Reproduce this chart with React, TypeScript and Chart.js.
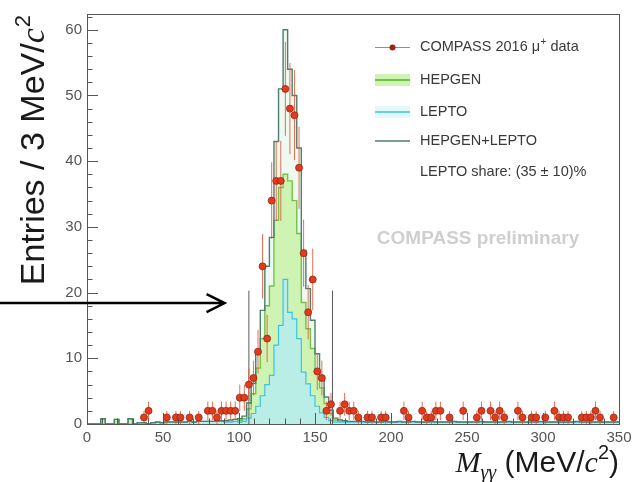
import React, { useEffect, useRef } from 'react';
import { Chart, registerables } from 'chart.js';

Chart.register(...registerables);

// ---------- data (bins of 3 MeV/c^2, bin i covers [3i, 3i+3]) ----------
const BIN_WIDTH = 3;
const X_MIN = 0;
const X_MAX = 350;
const Y_MIN = 0;
const Y_MAX = 62.4;
const X_STEP = 50;
const yTickValues: number[] = [0, 10, 20, 30, 40, 50, 60];

// COMPASS 2016 data (entries per bin, null = empty bin)
const dataCounts: (number | null)[] = [
  null, null, null, null, null, null, null, null, null, null,
  null, null, 1, 2, null, null, null, 1, null, 1,
  1, null, 1, null, 1, null, 2, 2, 1, 2,
  2, 2, 2, 4, 4, 6, 7, 11, 24, 13,
  34, 37, 37, 51, 48, 47, 39, 26, 17, 22,
  8, 7, 2, 3, null, 2, 3, 2, 2, 1,
  null, 1, 1, null, 1, 1, null, null, null, 2,
  1, null, null, 2, 1, 1, 2, 2, null, 1,
  null, null, 2, null, null, 1, 2, null, 2, 1,
  2, 1, null, null, 2, 1, null, 1, 1, null,
  1, null, 2, 1, 1, 1, null, null, 1, 1,
  1, 2, 1, null, null, 1, null,
];

// HEPGEN+LEPTO (sum of the simulations)
const totalMC: number[] = [
  0, 0, 0, 0.8, 0, 0, 0.7, 0, 0, 0.8,
  0, 0.2, 0.2, 0, 0.2, 0.3, 0.2, 0.3, 0.3, 0.3,
  0.3, 0.3, 0.4, 0.3, 0.4, 0.4, 0.4, 0.4, 0.5, 0.5,
  0.5, 0.6, 0.7, 0.8, 1.2, 3.2, 6.2, 11.2, 17.3, 24,
  28.4, 43, 51, 60, 54, 50, 42, 26.4, 20.6, 15.8,
  10.7, 7.2, 4.1, 2.1, 0.9, 0.6, 0.5, 0.4, 0.4, 0.4,
  0.4, 0.3, 0.4, 0.3, 0.3, 0.4, 0.3, 0.3, 0.4, 0.3,
  0.3, 0.4, 0.3, 0.3, 0.3, 0.4, 0.3, 0.3, 0.3, 0.3,
  0.4, 0.3, 0.3, 0.3, 0.3, 0.3, 0.4, 0.3, 0.3, 0.3,
  0.3, 0.3, 0.4, 0.3, 0.3, 0.3, 0.3, 0.3, 0.3, 0.4,
  0.3, 0.3, 0.3, 0.3, 0.3, 0.3, 0.3, 0.4, 0.3, 0.3,
  0.3, 0.3, 0.3, 0.3, 0.3, 0.3, 0.3,
];

// HEPGEN
const hepgenMC: number[] = [
  0, 0, 0, 0.8, 0, 0, 0.7, 0, 0, 0.8,
  0, 0, 0, 0, 0, 0, 0, 0, 0, 0,
  0, 0, 0, 0, 0, 0, 0, 0, 0.1, 0.1,
  0.2, 0.3, 0.3, 0.5, 0.8, 2.3, 4.6, 8.5, 13, 18,
  21, 31, 36, 38, 37, 34, 29, 18.5, 14.5, 11.5,
  8, 5.5, 3.1, 1.6, 0.6, 0.3, 0.2, 0.1, 0.1, 0.1,
  0.1, 0, 0.1, 0, 0, 0.1, 0, 0, 0.1, 0,
  0, 0.1, 0, 0, 0, 0.1, 0, 0, 0, 0,
  0.1, 0, 0, 0, 0, 0, 0.1, 0, 0, 0,
  0, 0, 0.1, 0, 0, 0, 0, 0, 0, 0.1,
  0, 0, 0, 0, 0, 0, 0, 0.1, 0, 0,
  0, 0, 0, 0, 0, 0, 0,
];

// LEPTO
const leptoMC: number[] = [
  0, 0, 0, 0, 0, 0, 0, 0, 0, 0,
  0, 0.2, 0.2, 0, 0.2, 0.3, 0.2, 0.3, 0.3, 0.3,
  0.3, 0.3, 0.4, 0.3, 0.4, 0.4, 0.4, 0.4, 0.4, 0.4,
  0.3, 0.3, 0.4, 0.3, 0.4, 0.9, 1.6, 2.7, 4.3, 6,
  7.4, 12, 15, 22, 17, 16, 13, 7.9, 6.1, 4.3,
  2.7, 1.7, 1.0, 0.5, 0.3, 0.3, 0.3, 0.3, 0.3, 0.3,
  0.3, 0.3, 0.3, 0.3, 0.3, 0.3, 0.3, 0.3, 0.3, 0.3,
  0.3, 0.3, 0.3, 0.3, 0.3, 0.3, 0.3, 0.3, 0.3, 0.3,
  0.3, 0.3, 0.3, 0.3, 0.3, 0.3, 0.3, 0.3, 0.3, 0.3,
  0.3, 0.3, 0.3, 0.3, 0.3, 0.3, 0.3, 0.3, 0.3, 0.3,
  0.3, 0.3, 0.3, 0.3, 0.3, 0.3, 0.3, 0.3, 0.3, 0.3,
  0.3, 0.3, 0.3, 0.3, 0.3, 0.3, 0.3,
];

// signal-window marker lines (MeV/c^2) and their height (entries)
const windowMarkers: number[] = [106.5, 161.5];
const windowMarkerHeight = 20.3;

// annotation arrow tip (data coordinates)
const arrowTip = { x: 90.5, y: 18.4 };

const legendLabels: string[] = [
  'COMPASS 2016 \u03bc',
  'HEPGEN',
  'LEPTO',
  'HEPGEN+LEPTO',
  'LEPTO share: (35 \u00b1 10)%',
];
const watermarkText = 'COMPASS preliminary';
const yTitleMain = 'Entries / 3 MeV/';
const xTitleVar = 'M';
const xTitleSub = '\u03b3\u03b3';
const xTitleUnit = ' (MeV/';

// ---------- styling ----------
const SANS = '"Liberation Sans", Arial, Helvetica, sans-serif';
const SERIF = '"Liberation Serif", "Times New Roman", serif';
const C_DATA = '#dc3d1c';
const C_DATA_EDGE = '#a3220f';
const C_ERR = 'rgba(228,86,52,0.85)';
const C_HEPGEN_FILL = '#cff3b2';
const C_HEPGEN_LINE = '#72c249';
const C_LEPTO_FILL = '#b9eee6';
const C_LEPTO_LINE = '#3fc3e2';
const C_TOTAL_FILL = '#eefaf1';
const C_TOTAL_LINE = '#4e7e6f';
const C_AXIS = '#555555';

function stepPoints(values: number[]) {
  const pts: { x: number; y: number }[] = [{ x: 0, y: 0 }];
  values.forEach((v, i) => {
    pts.push({ x: i * BIN_WIDTH, y: v }, { x: (i + 1) * BIN_WIDTH, y: v });
  });
  pts.push({ x: values.length * BIN_WIDTH, y: 0 });
  return pts;
}

const dataPoints = dataCounts.flatMap((n, i) =>
  n == null ? [] : [{ x: i * BIN_WIDTH + BIN_WIDTH / 2, y: n }]
);

const errorSegments = dataPoints.flatMap((p) => {
  const e = Math.sqrt(p.y);
  return [
    { x: p.x, y: p.y - e },
    { x: p.x, y: p.y + e },
    { x: p.x, y: null },
    { x: p.x - BIN_WIDTH / 2, y: p.y },
    { x: p.x + BIN_WIDTH / 2, y: p.y },
    { x: p.x + BIN_WIDTH / 2, y: null },
  ];
});

const markerSegments = windowMarkers.flatMap((m) => [
  { x: m, y: 0 },
  { x: m, y: windowMarkerHeight },
  { x: m, y: null },
]);

const rootPlugin = {
  id: 'rootStyle',
  beforeDatasetsDraw(chart: any) {
    const { ctx, chartArea } = chart;
    ctx.save();
    ctx.fillStyle = '#cfcfcf';
    ctx.font = `bold 19px ${SANS}`;
    ctx.textAlign = 'center';
    ctx.textBaseline = 'alphabetic';
    ctx.fillText(watermarkText, chartArea.left + (chartArea.right - chartArea.left) * 0.735, chartArea.top + 230);
    ctx.restore();
  },
  afterDatasetsDraw(chart: any) {
    const { ctx, chartArea } = chart;
    const xs = chart.scales.x;
    const ys = chart.scales.y;
    const { left, right, top, bottom } = chartArea;
    ctx.save();
    ctx.strokeStyle = C_AXIS;
    ctx.lineWidth = 1;
    ctx.strokeRect(Math.round(left) + 0.5, Math.round(top) + 0.5, Math.round(right - left), Math.round(bottom - top));
    ctx.beginPath();
    for (let v = X_MIN; v <= X_MAX; v += 10) {
      const px = Math.round(xs.getPixelForValue(v)) + 0.5;
      const len = v % X_STEP === 0 ? 11 : 5.5;
      ctx.moveTo(px, bottom);
      ctx.lineTo(px, bottom - len);
    }
    for (let v = Y_MIN; v <= Y_MAX; v += 2) {
      const py = Math.round(ys.getPixelForValue(v)) + 0.5;
      const len = v % 10 === 0 ? 11 : 5.5;
      ctx.moveTo(left, py);
      ctx.lineTo(left + len, py);
    }
    ctx.stroke();
    ctx.restore();
  },
  afterDraw(chart: any) {
    const { ctx, chartArea } = chart;
    const xs = chart.scales.x;
    const ys = chart.scales.y;
    ctx.save();

    // ---- y title (rotated, right-aligned to top) ----
    {
      const fs = 34;
      const mainFont = `${fs}px ${SANS}`;
      const cFont = `italic ${fs}px ${SERIF}`;
      const supFont = `${Math.round(fs * 0.66)}px ${SANS}`;
      ctx.font = mainFont;
      const w1 = ctx.measureText(yTitleMain).width;
      ctx.font = cFont;
      const w2 = ctx.measureText('c').width;
      ctx.font = supFont;
      const w3 = ctx.measureText('2').width;
      const total = w1 + w2 + w3 + 1;
      ctx.translate(44, chartArea.top + 1 + total);
      ctx.rotate(-Math.PI / 2);
      ctx.fillStyle = '#1a1a1a';
      ctx.textBaseline = 'alphabetic';
      ctx.textAlign = 'left';
      ctx.font = mainFont;
      ctx.fillText(yTitleMain, 0, 0);
      ctx.font = cFont;
      ctx.fillText('c', w1, 0);
      ctx.font = supFont;
      ctx.fillText('2', w1 + w2 + 1, -fs * 0.42);
      ctx.setTransform(1, 0, 0, 1, 0, 0);
    }

    // ---- x title (right-aligned to frame) ----
    {
      const fs = 30;
      const mFont = `italic ${fs}px ${SERIF}`;
      const subFont = `italic ${Math.round(fs * 0.68)}px ${SERIF}`;
      const unitFont = `${fs}px ${SANS}`;
      const supFont = `${Math.round(fs * 0.66)}px ${SANS}`;
      const parts = [
        { t: xTitleVar, f: mFont, dy: 0 },
        { t: xTitleSub, f: subFont, dy: 7 },
        { t: xTitleUnit, f: unitFont, dy: 0 },
        { t: 'c', f: mFont, dy: 0 },
        { t: '2', f: supFont, dy: -13 },
        { t: ')', f: unitFont, dy: 0 },
      ];
      let total = 0;
      const widths = parts.map((p) => {
        ctx.font = p.f;
        const w = ctx.measureText(p.t).width;
        total += w;
        return w;
      });
      let x = chartArea.right - total;
      const base = 472;
      ctx.fillStyle = '#1a1a1a';
      ctx.textAlign = 'left';
      ctx.textBaseline = 'alphabetic';
      parts.forEach((p, i) => {
        ctx.font = p.f;
        ctx.fillText(p.t, x, base + p.dy);
        x += widths[i];
      });
    }

    // ---- legend ----
    {
      const rows = [47, 80, 112, 141, 172];
      const sx0 = 375;
      const sx1 = 410;
      const tx = 420;
      ctx.textAlign = 'left';
      ctx.textBaseline = 'middle';
      ctx.font = `14.5px ${SANS}`;
      ctx.strokeStyle = C_ERR;
      ctx.lineWidth = 1;
      ctx.beginPath();
      ctx.moveTo(sx0, rows[0] + 0.5);
      ctx.lineTo(sx1, rows[0] + 0.5);
      ctx.stroke();
      ctx.fillStyle = C_DATA_EDGE;
      ctx.beginPath();
      ctx.arc((sx0 + sx1) / 2, rows[0] + 0.5, 3, 0, Math.PI * 2);
      ctx.fill();
      ctx.fillStyle = '#3a3a3a';
      ctx.fillText(legendLabels[0], tx, rows[0]);
      const w0 = ctx.measureText(legendLabels[0]).width;
      ctx.font = `10px ${SANS}`;
      ctx.fillText('+', tx + w0 + 0.5, rows[0] - 5);
      const wp = ctx.measureText('+').width;
      ctx.font = `14.5px ${SANS}`;
      ctx.fillText(' data', tx + w0 + wp + 0.5, rows[0]);
      ctx.fillStyle = C_HEPGEN_FILL;
      ctx.fillRect(sx0, rows[1] - 6, sx1 - sx0, 12);
      ctx.strokeStyle = C_HEPGEN_LINE;
      ctx.lineWidth = 2;
      ctx.beginPath();
      ctx.moveTo(sx0, rows[1]);
      ctx.lineTo(sx1, rows[1]);
      ctx.stroke();
      ctx.fillStyle = '#3a3a3a';
      ctx.fillText(legendLabels[1], tx, rows[1]);
      ctx.fillStyle = '#e3f8fb';
      ctx.fillRect(sx0, rows[2] - 6, sx1 - sx0, 12);
      ctx.strokeStyle = C_LEPTO_LINE;
      ctx.lineWidth = 1.5;
      ctx.beginPath();
      ctx.moveTo(sx0, rows[2]);
      ctx.lineTo(sx1, rows[2]);
      ctx.stroke();
      ctx.fillStyle = '#3a3a3a';
      ctx.fillText(legendLabels[2], tx, rows[2]);
      ctx.strokeStyle = C_TOTAL_LINE;
      ctx.lineWidth = 1.5;
      ctx.beginPath();
      ctx.moveTo(sx0, rows[3]);
      ctx.lineTo(sx1, rows[3]);
      ctx.stroke();
      ctx.fillText(legendLabels[3], tx, rows[3]);
      ctx.fillText(legendLabels[4], tx, rows[4]);
    }

    // ---- annotation arrow ----
    {
      const tx = xs.getPixelForValue(arrowTip.x);
      const ty = ys.getPixelForValue(arrowTip.y);
      ctx.strokeStyle = '#000';
      ctx.lineWidth = 2.5;
      ctx.lineCap = 'butt';
      ctx.beginPath();
      ctx.moveTo(0, ty);
      ctx.lineTo(tx, ty);
      ctx.moveTo(tx - 18, ty - 9);
      ctx.lineTo(tx, ty);
      ctx.lineTo(tx - 18, ty + 9);
      ctx.stroke();
    }
    ctx.restore();
  },
};

export default function App() {
  const ref = useRef<HTMLCanvasElement>(null);
  useEffect(() => {
    const canvas = ref.current;
    if (!canvas) return;
    const chart = new Chart(canvas, {
      type: 'line',
      data: {
        datasets: [
          {
            type: 'line',
            label: 'COMPASS 2016 data',
            data: dataPoints,
            showLine: false,
            pointRadius: 3.5,
            pointBackgroundColor: C_DATA,
            pointBorderColor: C_DATA_EDGE,
            pointBorderWidth: 0.8,
            order: 0,
          },
          {
            type: 'line',
            label: 'errors',
            data: errorSegments as any,
            borderColor: C_ERR,
            borderWidth: 1,
            pointRadius: 0,
            spanGaps: false,
            tension: 0,
            order: 1,
          },
          {
            type: 'line',
            label: 'HEPGEN+LEPTO',
            data: stepPoints(totalMC),
            borderColor: C_TOTAL_LINE,
            borderWidth: 1.4,
            pointRadius: 0,
            fill: false,
            tension: 0,
            order: 2,
          },
          {
            type: 'line',
            label: 'window',
            data: markerSegments as any,
            borderColor: '#5a5a5a',
            borderWidth: 1,
            pointRadius: 0,
            spanGaps: false,
            order: 3,
          },
          {
            type: 'line',
            label: 'LEPTO',
            data: stepPoints(leptoMC),
            borderColor: C_LEPTO_LINE,
            backgroundColor: C_LEPTO_FILL,
            borderWidth: 1.2,
            pointRadius: 0,
            fill: 'origin',
            tension: 0,
            order: 4,
          },
          {
            type: 'line',
            label: 'HEPGEN',
            data: stepPoints(hepgenMC),
            borderColor: C_HEPGEN_LINE,
            backgroundColor: C_HEPGEN_FILL,
            borderWidth: 1.4,
            pointRadius: 0,
            fill: 'origin',
            tension: 0,
            order: 5,
          },
          {
            type: 'line',
            label: 'total fill',
            data: stepPoints(totalMC),
            borderWidth: 0,
            borderColor: 'rgba(0,0,0,0)',
            backgroundColor: C_TOTAL_FILL,
            pointRadius: 0,
            fill: 'origin',
            tension: 0,
            order: 6,
          },
        ],
      },
      options: {
        responsive: false,
        animation: false,
        devicePixelRatio: 1,
        layout: { padding: { left: 0, right: 18, top: 12, bottom: 0 } },
        plugins: {
          legend: { display: false },
          tooltip: { enabled: false },
        },
        scales: {
          x: {
            type: 'linear',
            min: X_MIN,
            max: X_MAX,
            ticks: {
              stepSize: X_STEP,
              autoSkip: false,
              maxRotation: 0,
              padding: 5,
              color: '#555',
              font: { family: SANS, size: 15 },
            },
            grid: { display: false, drawTicks: false },
            border: { display: false },
            afterFit: (s: any) => {
              s.height = 58;
            },
          },
          y: {
            type: 'linear',
            min: Y_MIN,
            max: Y_MAX,
            ticks: {
              autoSkip: false,
              padding: 5,
              color: '#555',
              font: { family: SANS, size: 15 },
            },
            afterBuildTicks: (s: any) => {
              s.ticks = yTickValues.map((v) => ({ value: v }));
            },
            grid: { display: false, drawTicks: false },
            border: { display: false },
            afterFit: (s: any) => {
              s.width = 87;
            },
          },
        },
      },
      plugins: [rootPlugin],
    });
    return () => chart.destroy();
  }, []);

  return (
    <div style={{ position: 'fixed', left: 0, top: 0, width: 637, height: 482, background: '#fff' }}>
      <canvas ref={ref} width={637} height={482} style={{ display: 'block', width: 637, height: 482 }} />
    </div>
  );
}
